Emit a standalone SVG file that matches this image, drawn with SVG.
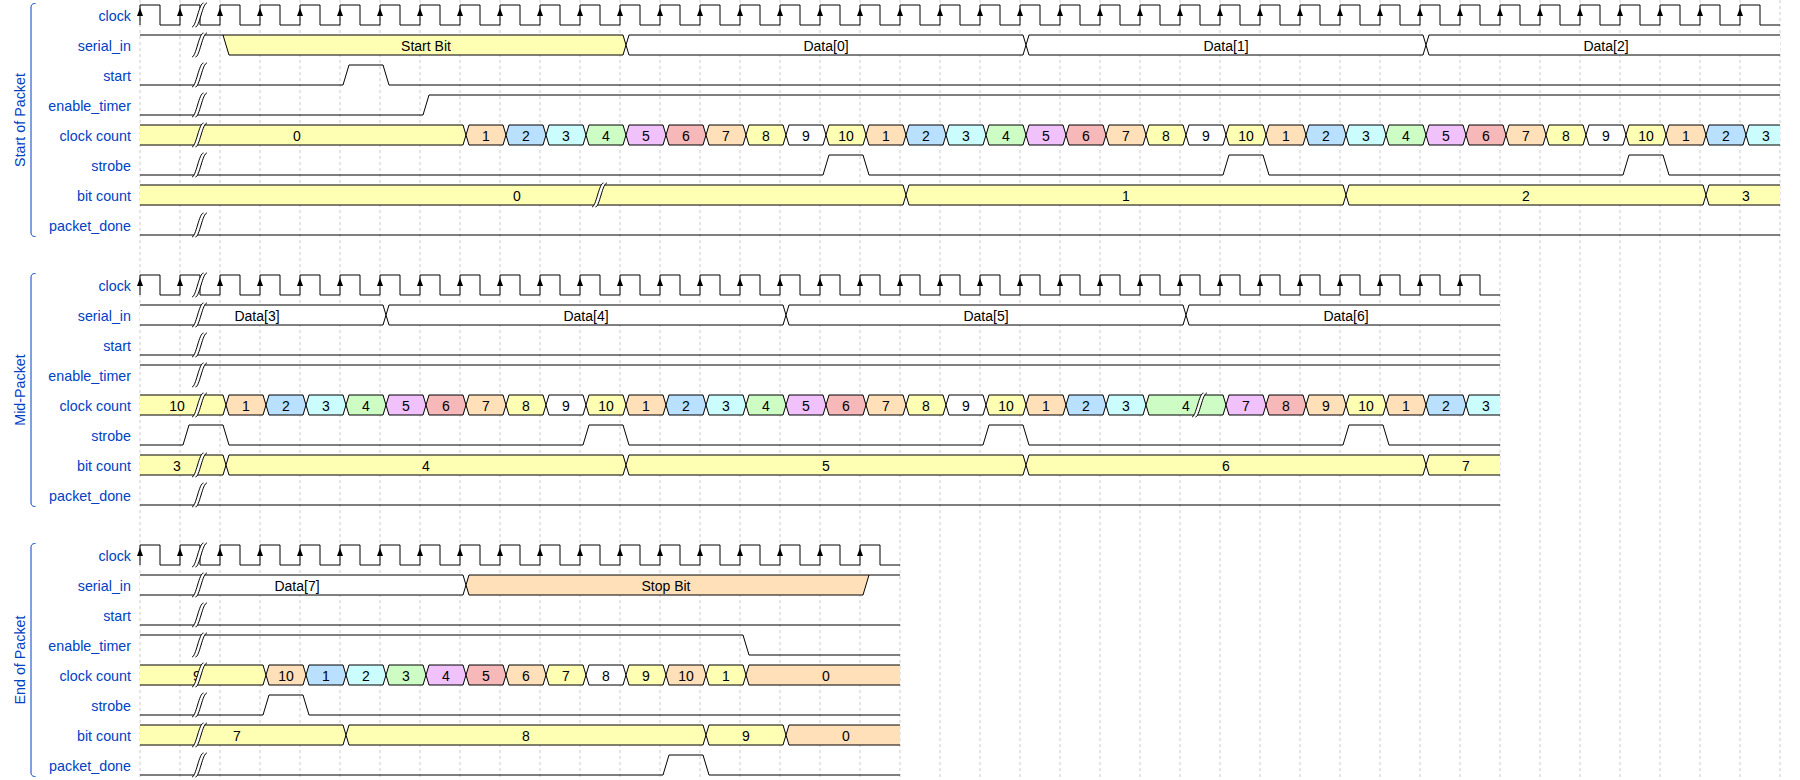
<svg xmlns="http://www.w3.org/2000/svg" width="1800" height="780" viewBox="0 0 1800 780">
<style>
.lbl{font-family:"Liberation Sans",Arial,Helvetica,sans-serif;font-size:14.3px;fill:#0041c4;text-anchor:end}
.grp{font-family:"Liberation Sans",Arial,Helvetica,sans-serif;font-size:14.3px;fill:#0041c4;text-anchor:middle}
.dt{font-family:"Liberation Sans",Arial,Helvetica,sans-serif;font-size:14px;fill:#000;text-anchor:middle}
.w{fill:none;stroke:#000;stroke-width:1}
.d{stroke:#000;stroke-width:1}
.ar{fill:#000;stroke:none}
.grid{fill:none;stroke:#cccccc;stroke-width:1;stroke-dasharray:3,3}
.br{fill:none;stroke:#0041c4;stroke-width:1}
.c2{fill:#ffffff}.c3{fill:#ffffb4}.c4{fill:#ffe0b9}.c5{fill:#b9e0ff}.c6{fill:#ccfdfe}.c7{fill:#cdfdc5}.c8{fill:#f0c1fb}.c9{fill:#f6b8b8}
</style>
<defs>
<path id="cell" d="M6,10 L9,0 L43,0 L46,10 L43,20 L9,20 Z" stroke="#000" stroke-width="1"/>
<g id="gap">
<path d="M-8,12 C-4,12 -1,-12 3.5,-12 L7,-12 C2.5,-12 -0.5,12 -4.5,12 Z" fill="#fff"/>
<path d="M-8,12 C-4,12 -1,-12 3.5,-12 M-4.5,12 C-0.5,12 2.5,-12 7,-12" fill="none" stroke="#000" stroke-width="1"/>
</g>
</defs>

<path class="grid" d="M140,0v780
m40,-780v780 m40,-780v780 m40,-780v780 m40,-780v780 m40,-780v780 m40,-780v780 m40,-780v780 m40,-780v780 m40,-780v780 m40,-780v780
m40,-780v780 m40,-780v780 m40,-780v780 m40,-780v780 m40,-780v780 m40,-780v780 m40,-780v780 m40,-780v780 m40,-780v780 m40,-780v780
m40,-780v780 m40,-780v780 m40,-780v780 m40,-780v780 m40,-780v780 m40,-780v780 m40,-780v780 m40,-780v780 m40,-780v780 m40,-780v780
m40,-780v780 m40,-780v780 m40,-780v780 m40,-780v780 m40,-780v780 m40,-780v780 m40,-780v780 m40,-780v780 m40,-780v780 m40,-780v780
m40,-780v780"/>

<!-- ================= Start of Packet ================= -->
<g id="group-start-of-packet">
<path class="br" d="M35.5,3.5 C32,3.5 31,5 31,8 L31,232 C31,235 32,236.5 35.5,236.5"/>
<text class="grp" transform="translate(25,120) rotate(-90)">Start of Packet</text>
</g>

<g id="p1-clock">
<text class="lbl" x="131" y="21">clock</text>
<path class="w" d="M140,25
v-20h20v20h20 v-20h20v20h20 v-20h20v20h20 v-20h20v20h20 v-20h20v20h20 v-20h20v20h20 v-20h20v20h20 v-20h20v20h20 v-20h20v20h20 v-20h20v20h20
v-20h20v20h20 v-20h20v20h20 v-20h20v20h20 v-20h20v20h20 v-20h20v20h20 v-20h20v20h20 v-20h20v20h20 v-20h20v20h20 v-20h20v20h20 v-20h20v20h20
v-20h20v20h20 v-20h20v20h20 v-20h20v20h20 v-20h20v20h20 v-20h20v20h20 v-20h20v20h20 v-20h20v20h20 v-20h20v20h20 v-20h20v20h20 v-20h20v20h20
v-20h20v20h20 v-20h20v20h20 v-20h20v20h20 v-20h20v20h20 v-20h20v20h20 v-20h20v20h20 v-20h20v20h20 v-20h20v20h20 v-20h20v20h20 v-20h20v20h20
v-20h20v20h20"/>
<path class="ar" d="M140,8l-3,8h6z
m40,0l-3,8h6z m40,0l-3,8h6z m40,0l-3,8h6z m40,0l-3,8h6z m40,0l-3,8h6z m40,0l-3,8h6z m40,0l-3,8h6z m40,0l-3,8h6z m40,0l-3,8h6z m40,0l-3,8h6z
m40,0l-3,8h6z m40,0l-3,8h6z m40,0l-3,8h6z m40,0l-3,8h6z m40,0l-3,8h6z m40,0l-3,8h6z m40,0l-3,8h6z m40,0l-3,8h6z m40,0l-3,8h6z m40,0l-3,8h6z
m40,0l-3,8h6z m40,0l-3,8h6z m40,0l-3,8h6z m40,0l-3,8h6z m40,0l-3,8h6z m40,0l-3,8h6z m40,0l-3,8h6z m40,0l-3,8h6z m40,0l-3,8h6z m40,0l-3,8h6z
m40,0l-3,8h6z m40,0l-3,8h6z m40,0l-3,8h6z m40,0l-3,8h6z m40,0l-3,8h6z m40,0l-3,8h6z m40,0l-3,8h6z m40,0l-3,8h6z m40,0l-3,8h6z m40,0l-3,8h6z"/>
<use href="#gap" x="200" y="15"/>
</g>

<g id="p1-serial_in">
<text class="lbl" x="131" y="51">serial_in</text>
<path class="d c3" d="M140,35 L623,35 L626,45 L623,55 L229,55 L223,35"/>
<path class="d c2" d="M626,45 L629,35 L1023,35 L1026,45 L1023,55 L629,55 Z"/>
<path class="d c2" d="M1026,45 L1029,35 L1423,35 L1426,45 L1423,55 L1029,55 Z"/>
<path class="d c2" d="M1780,35 L1429,35 L1426,45 L1429,55 L1780,55"/>
<text class="dt" x="426" y="50.5">Start Bit</text>
<text class="dt" x="826" y="50.5">Data[0]</text>
<text class="dt" x="1226" y="50.5">Data[1]</text>
<text class="dt" x="1606" y="50.5">Data[2]</text>
<use href="#gap" x="200" y="45"/>
</g>

<g id="p1-start">
<text class="lbl" x="131" y="81">start</text>
<path class="w" d="M140,85 L343,85 L349,65 L383,65 L389,85 L1780,85"/>
<use href="#gap" x="200" y="75"/>
</g>

<g id="p1-enable_timer">
<text class="lbl" x="131" y="111">enable_timer</text>
<path class="w" d="M140,115 L423,115 L429,95 L1780,95"/>
<use href="#gap" x="200" y="105"/>
</g>

<g id="p1-clock_count">
<text class="lbl" x="131" y="141">clock count</text>
<path class="d c3" d="M140,125 L463,125 L466,135 L463,145 L140,145"/>
<use href="#cell" x="460" y="125" class="c4"/>
<use href="#cell" x="500" y="125" class="c5"/>
<use href="#cell" x="540" y="125" class="c6"/>
<use href="#cell" x="580" y="125" class="c7"/>
<use href="#cell" x="620" y="125" class="c8"/>
<use href="#cell" x="660" y="125" class="c9"/>
<use href="#cell" x="700" y="125" class="c4"/>
<use href="#cell" x="740" y="125" class="c3"/>
<use href="#cell" x="780" y="125" class="c2"/>
<use href="#cell" x="820" y="125" class="c3"/>
<use href="#cell" x="860" y="125" class="c4"/>
<use href="#cell" x="900" y="125" class="c5"/>
<use href="#cell" x="940" y="125" class="c6"/>
<use href="#cell" x="980" y="125" class="c7"/>
<use href="#cell" x="1020" y="125" class="c8"/>
<use href="#cell" x="1060" y="125" class="c9"/>
<use href="#cell" x="1100" y="125" class="c4"/>
<use href="#cell" x="1140" y="125" class="c3"/>
<use href="#cell" x="1180" y="125" class="c2"/>
<use href="#cell" x="1220" y="125" class="c3"/>
<use href="#cell" x="1260" y="125" class="c4"/>
<use href="#cell" x="1300" y="125" class="c5"/>
<use href="#cell" x="1340" y="125" class="c6"/>
<use href="#cell" x="1380" y="125" class="c7"/>
<use href="#cell" x="1420" y="125" class="c8"/>
<use href="#cell" x="1460" y="125" class="c9"/>
<use href="#cell" x="1500" y="125" class="c4"/>
<use href="#cell" x="1540" y="125" class="c3"/>
<use href="#cell" x="1580" y="125" class="c2"/>
<use href="#cell" x="1620" y="125" class="c3"/>
<use href="#cell" x="1660" y="125" class="c4"/>
<use href="#cell" x="1700" y="125" class="c5"/>
<path class="d c6" d="M1780,125 L1749,125 L1746,135 L1749,145 L1780,145"/>
<text class="dt" x="297" y="140.5">0</text>
<text class="dt" x="486" y="140.5">1</text>
<text class="dt" x="526" y="140.5">2</text>
<text class="dt" x="566" y="140.5">3</text>
<text class="dt" x="606" y="140.5">4</text>
<text class="dt" x="646" y="140.5">5</text>
<text class="dt" x="686" y="140.5">6</text>
<text class="dt" x="726" y="140.5">7</text>
<text class="dt" x="766" y="140.5">8</text>
<text class="dt" x="806" y="140.5">9</text>
<text class="dt" x="846" y="140.5">10</text>
<text class="dt" x="886" y="140.5">1</text>
<text class="dt" x="926" y="140.5">2</text>
<text class="dt" x="966" y="140.5">3</text>
<text class="dt" x="1006" y="140.5">4</text>
<text class="dt" x="1046" y="140.5">5</text>
<text class="dt" x="1086" y="140.5">6</text>
<text class="dt" x="1126" y="140.5">7</text>
<text class="dt" x="1166" y="140.5">8</text>
<text class="dt" x="1206" y="140.5">9</text>
<text class="dt" x="1246" y="140.5">10</text>
<text class="dt" x="1286" y="140.5">1</text>
<text class="dt" x="1326" y="140.5">2</text>
<text class="dt" x="1366" y="140.5">3</text>
<text class="dt" x="1406" y="140.5">4</text>
<text class="dt" x="1446" y="140.5">5</text>
<text class="dt" x="1486" y="140.5">6</text>
<text class="dt" x="1526" y="140.5">7</text>
<text class="dt" x="1566" y="140.5">8</text>
<text class="dt" x="1606" y="140.5">9</text>
<text class="dt" x="1646" y="140.5">10</text>
<text class="dt" x="1686" y="140.5">1</text>
<text class="dt" x="1726" y="140.5">2</text>
<text class="dt" x="1766" y="140.5">3</text>
<use href="#gap" x="200" y="135"/>
</g>

<g id="p1-strobe">
<text class="lbl" x="131" y="171">strobe</text>
<path class="w" d="M140,175 L823,175 L829,155 L863,155 L869,175 L1223,175 L1229,155 L1263,155 L1269,175 L1623,175 L1629,155 L1663,155 L1669,175 L1780,175"/>
<use href="#gap" x="200" y="165"/>
</g>

<g id="p1-bit_count">
<text class="lbl" x="131" y="201">bit count</text>
<path class="d c3" d="M140,185 L903,185 L906,195 L903,205 L140,205"/>
<path class="d c3" d="M906,195 L909,185 L1343,185 L1346,195 L1343,205 L909,205 Z"/>
<path class="d c3" d="M1346,195 L1349,185 L1703,185 L1706,195 L1703,205 L1349,205 Z"/>
<path class="d c3" d="M1780,185 L1709,185 L1706,195 L1709,205 L1780,205"/>
<text class="dt" x="517" y="200.5">0</text>
<text class="dt" x="1126" y="200.5">1</text>
<text class="dt" x="1526" y="200.5">2</text>
<text class="dt" x="1746" y="200.5">3</text>
<use href="#gap" x="600" y="195"/>
</g>

<g id="p1-packet_done">
<text class="lbl" x="131" y="231">packet_done</text>
<path class="w" d="M140,235 L1780,235"/>
<use href="#gap" x="200" y="225"/>
</g>

<!-- ================= Mid-Packet ================= -->
<g id="group-mid-packet">
<path class="br" d="M35.5,273.5 C32,273.5 31,275 31,278 L31,502 C31,505 32,506.5 35.5,506.5"/>
<text class="grp" transform="translate(25,390) rotate(-90)">Mid-Packet</text>
</g>

<g id="p2-clock">
<text class="lbl" x="131" y="291">clock</text>
<path class="w" d="M140,295
v-20h20v20h20 v-20h20v20h20 v-20h20v20h20 v-20h20v20h20 v-20h20v20h20 v-20h20v20h20 v-20h20v20h20 v-20h20v20h20 v-20h20v20h20 v-20h20v20h20
v-20h20v20h20 v-20h20v20h20 v-20h20v20h20 v-20h20v20h20 v-20h20v20h20 v-20h20v20h20 v-20h20v20h20 v-20h20v20h20 v-20h20v20h20 v-20h20v20h20
v-20h20v20h20 v-20h20v20h20 v-20h20v20h20 v-20h20v20h20 v-20h20v20h20 v-20h20v20h20 v-20h20v20h20 v-20h20v20h20 v-20h20v20h20 v-20h20v20h20
v-20h20v20h20 v-20h20v20h20 v-20h20v20h20 v-20h20v20h20"/>
<path class="ar" d="M140,278l-3,8h6z
m40,0l-3,8h6z m40,0l-3,8h6z m40,0l-3,8h6z m40,0l-3,8h6z m40,0l-3,8h6z m40,0l-3,8h6z m40,0l-3,8h6z m40,0l-3,8h6z m40,0l-3,8h6z m40,0l-3,8h6z
m40,0l-3,8h6z m40,0l-3,8h6z m40,0l-3,8h6z m40,0l-3,8h6z m40,0l-3,8h6z m40,0l-3,8h6z m40,0l-3,8h6z m40,0l-3,8h6z m40,0l-3,8h6z m40,0l-3,8h6z
m40,0l-3,8h6z m40,0l-3,8h6z m40,0l-3,8h6z m40,0l-3,8h6z m40,0l-3,8h6z m40,0l-3,8h6z m40,0l-3,8h6z m40,0l-3,8h6z m40,0l-3,8h6z m40,0l-3,8h6z
m40,0l-3,8h6z m40,0l-3,8h6z m40,0l-3,8h6z"/>
<use href="#gap" x="200" y="285"/>
</g>

<g id="p2-serial_in">
<text class="lbl" x="131" y="321">serial_in</text>
<path class="d c2" d="M140,305 L383,305 L386,315 L383,325 L140,325"/>
<path class="d c2" d="M386,315 L389,305 L783,305 L786,315 L783,325 L389,325 Z"/>
<path class="d c2" d="M786,315 L789,305 L1183,305 L1186,315 L1183,325 L789,325 Z"/>
<path class="d c2" d="M1500,305 L1189,305 L1186,315 L1189,325 L1500,325"/>
<text class="dt" x="257" y="320.5">Data[3]</text>
<text class="dt" x="586" y="320.5">Data[4]</text>
<text class="dt" x="986" y="320.5">Data[5]</text>
<text class="dt" x="1346" y="320.5">Data[6]</text>
<use href="#gap" x="200" y="315"/>
</g>

<g id="p2-start">
<text class="lbl" x="131" y="351">start</text>
<path class="w" d="M140,355 L1500,355"/>
<use href="#gap" x="200" y="345"/>
</g>

<g id="p2-enable_timer">
<text class="lbl" x="131" y="381">enable_timer</text>
<path class="w" d="M140,365 L1500,365"/>
<use href="#gap" x="200" y="375"/>
</g>

<g id="p2-clock_count">
<text class="lbl" x="131" y="411">clock count</text>
<path class="d c3" d="M140,395 L223,395 L226,405 L223,415 L140,415"/>
<use href="#cell" x="220" y="395" class="c4"/>
<use href="#cell" x="260" y="395" class="c5"/>
<use href="#cell" x="300" y="395" class="c6"/>
<use href="#cell" x="340" y="395" class="c7"/>
<use href="#cell" x="380" y="395" class="c8"/>
<use href="#cell" x="420" y="395" class="c9"/>
<use href="#cell" x="460" y="395" class="c4"/>
<use href="#cell" x="500" y="395" class="c3"/>
<use href="#cell" x="540" y="395" class="c2"/>
<use href="#cell" x="580" y="395" class="c3"/>
<use href="#cell" x="620" y="395" class="c4"/>
<use href="#cell" x="660" y="395" class="c5"/>
<use href="#cell" x="700" y="395" class="c6"/>
<use href="#cell" x="740" y="395" class="c7"/>
<use href="#cell" x="780" y="395" class="c8"/>
<use href="#cell" x="820" y="395" class="c9"/>
<use href="#cell" x="860" y="395" class="c4"/>
<use href="#cell" x="900" y="395" class="c3"/>
<use href="#cell" x="940" y="395" class="c2"/>
<use href="#cell" x="980" y="395" class="c3"/>
<use href="#cell" x="1020" y="395" class="c4"/>
<use href="#cell" x="1060" y="395" class="c5"/>
<use href="#cell" x="1100" y="395" class="c6"/>
<path class="d c7" d="M1146,405 L1149,395 L1223,395 L1226,405 L1223,415 L1149,415 Z"/>
<use href="#cell" x="1220" y="395" class="c8"/>
<use href="#cell" x="1260" y="395" class="c9"/>
<use href="#cell" x="1300" y="395" class="c4"/>
<use href="#cell" x="1340" y="395" class="c3"/>
<use href="#cell" x="1380" y="395" class="c4"/>
<use href="#cell" x="1420" y="395" class="c5"/>
<path class="d c6" d="M1500,395 L1469,395 L1466,405 L1469,415 L1500,415"/>
<text class="dt" x="177" y="410.5">10</text>
<text class="dt" x="246" y="410.5">1</text>
<text class="dt" x="286" y="410.5">2</text>
<text class="dt" x="326" y="410.5">3</text>
<text class="dt" x="366" y="410.5">4</text>
<text class="dt" x="406" y="410.5">5</text>
<text class="dt" x="446" y="410.5">6</text>
<text class="dt" x="486" y="410.5">7</text>
<text class="dt" x="526" y="410.5">8</text>
<text class="dt" x="566" y="410.5">9</text>
<text class="dt" x="606" y="410.5">10</text>
<text class="dt" x="646" y="410.5">1</text>
<text class="dt" x="686" y="410.5">2</text>
<text class="dt" x="726" y="410.5">3</text>
<text class="dt" x="766" y="410.5">4</text>
<text class="dt" x="806" y="410.5">5</text>
<text class="dt" x="846" y="410.5">6</text>
<text class="dt" x="886" y="410.5">7</text>
<text class="dt" x="926" y="410.5">8</text>
<text class="dt" x="966" y="410.5">9</text>
<text class="dt" x="1006" y="410.5">10</text>
<text class="dt" x="1046" y="410.5">1</text>
<text class="dt" x="1086" y="410.5">2</text>
<text class="dt" x="1126" y="410.5">3</text>
<text class="dt" x="1186" y="410.5">4</text>
<text class="dt" x="1246" y="410.5">7</text>
<text class="dt" x="1286" y="410.5">8</text>
<text class="dt" x="1326" y="410.5">9</text>
<text class="dt" x="1366" y="410.5">10</text>
<text class="dt" x="1406" y="410.5">1</text>
<text class="dt" x="1446" y="410.5">2</text>
<text class="dt" x="1486" y="410.5">3</text>
<use href="#gap" x="200" y="405"/>
<use href="#gap" x="1200" y="405"/>
</g>

<g id="p2-strobe">
<text class="lbl" x="131" y="441">strobe</text>
<path class="w" d="M140,445 L183,445 L189,425 L223,425 L229,445 L583,445 L589,425 L623,425 L629,445 L983,445 L989,425 L1023,425 L1029,445 L1343,445 L1349,425 L1383,425 L1389,445 L1500,445"/>
</g>

<g id="p2-bit_count">
<text class="lbl" x="131" y="471">bit count</text>
<path class="d c3" d="M140,455 L223,455 L226,465 L223,475 L140,475"/>
<path class="d c3" d="M226,465 L229,455 L623,455 L626,465 L623,475 L229,475 Z"/>
<path class="d c3" d="M626,465 L629,455 L1023,455 L1026,465 L1023,475 L629,475 Z"/>
<path class="d c3" d="M1026,465 L1029,455 L1423,455 L1426,465 L1423,475 L1029,475 Z"/>
<path class="d c3" d="M1500,455 L1429,455 L1426,465 L1429,475 L1500,475"/>
<text class="dt" x="177" y="470.5">3</text>
<text class="dt" x="426" y="470.5">4</text>
<text class="dt" x="826" y="470.5">5</text>
<text class="dt" x="1226" y="470.5">6</text>
<text class="dt" x="1466" y="470.5">7</text>
<use href="#gap" x="200" y="465"/>
</g>

<g id="p2-packet_done">
<text class="lbl" x="131" y="501">packet_done</text>
<path class="w" d="M140,505 L1500,505"/>
<use href="#gap" x="200" y="495"/>
</g>

<!-- ================= End of Packet ================= -->
<g id="group-end-of-packet">
<path class="br" d="M35.5,543.5 C32,543.5 31,545 31,548 L31,772 C31,775 32,776.5 35.5,776.5"/>
<text class="grp" transform="translate(25,660) rotate(-90)">End of Packet</text>
</g>

<g id="p3-clock">
<text class="lbl" x="131" y="561">clock</text>
<path class="w" d="M140,565
v-20h20v20h20 v-20h20v20h20 v-20h20v20h20 v-20h20v20h20 v-20h20v20h20 v-20h20v20h20 v-20h20v20h20 v-20h20v20h20 v-20h20v20h20 v-20h20v20h20
v-20h20v20h20 v-20h20v20h20 v-20h20v20h20 v-20h20v20h20 v-20h20v20h20 v-20h20v20h20 v-20h20v20h20 v-20h20v20h20 v-20h20v20h20"/>
<path class="ar" d="M140,548l-3,8h6z
m40,0l-3,8h6z m40,0l-3,8h6z m40,0l-3,8h6z m40,0l-3,8h6z m40,0l-3,8h6z m40,0l-3,8h6z m40,0l-3,8h6z m40,0l-3,8h6z m40,0l-3,8h6z m40,0l-3,8h6z
m40,0l-3,8h6z m40,0l-3,8h6z m40,0l-3,8h6z m40,0l-3,8h6z m40,0l-3,8h6z m40,0l-3,8h6z m40,0l-3,8h6z m40,0l-3,8h6z"/>
<use href="#gap" x="200" y="555"/>
</g>

<g id="p3-serial_in">
<text class="lbl" x="131" y="591">serial_in</text>
<path class="d c2" d="M140,575 L463,575 L466,585 L463,595 L140,595"/>
<path class="d c4" d="M900,575 L469,575 L466,585 L469,595 L863,595 L869,575"/>
<text class="dt" x="297" y="590.5">Data[7]</text>
<text class="dt" x="666" y="590.5">Stop Bit</text>
<use href="#gap" x="200" y="585"/>
</g>

<g id="p3-start">
<text class="lbl" x="131" y="621">start</text>
<path class="w" d="M140,625 L900,625"/>
<use href="#gap" x="200" y="615"/>
</g>

<g id="p3-enable_timer">
<text class="lbl" x="131" y="651">enable_timer</text>
<path class="w" d="M140,635 L743,635 L749,655 L900,655"/>
<use href="#gap" x="200" y="645"/>
</g>

<g id="p3-clock_count">
<text class="lbl" x="131" y="681">clock count</text>
<path class="d c3" d="M140,665 L263,665 L266,675 L263,685 L140,685"/>
<use href="#cell" x="260" y="665" class="c4"/>
<use href="#cell" x="300" y="665" class="c5"/>
<use href="#cell" x="340" y="665" class="c6"/>
<use href="#cell" x="380" y="665" class="c7"/>
<use href="#cell" x="420" y="665" class="c8"/>
<use href="#cell" x="460" y="665" class="c9"/>
<use href="#cell" x="500" y="665" class="c4"/>
<use href="#cell" x="540" y="665" class="c3"/>
<use href="#cell" x="580" y="665" class="c2"/>
<use href="#cell" x="620" y="665" class="c3"/>
<use href="#cell" x="660" y="665" class="c4"/>
<use href="#cell" x="700" y="665" class="c3"/>
<path class="d c4" d="M900,665 L749,665 L746,675 L749,685 L900,685"/>
<text class="dt" x="197" y="680.5">9</text>
<text class="dt" x="286" y="680.5">10</text>
<text class="dt" x="326" y="680.5">1</text>
<text class="dt" x="366" y="680.5">2</text>
<text class="dt" x="406" y="680.5">3</text>
<text class="dt" x="446" y="680.5">4</text>
<text class="dt" x="486" y="680.5">5</text>
<text class="dt" x="526" y="680.5">6</text>
<text class="dt" x="566" y="680.5">7</text>
<text class="dt" x="606" y="680.5">8</text>
<text class="dt" x="646" y="680.5">9</text>
<text class="dt" x="686" y="680.5">10</text>
<text class="dt" x="726" y="680.5">1</text>
<text class="dt" x="826" y="680.5">0</text>
<use href="#gap" x="200" y="675"/>
</g>

<g id="p3-strobe">
<text class="lbl" x="131" y="711">strobe</text>
<path class="w" d="M140,715 L263,715 L269,695 L303,695 L309,715 L900,715"/>
<use href="#gap" x="200" y="705"/>
</g>

<g id="p3-bit_count">
<text class="lbl" x="131" y="741">bit count</text>
<path class="d c3" d="M140,725 L343,725 L346,735 L343,745 L140,745"/>
<path class="d c3" d="M346,735 L349,725 L703,725 L706,735 L703,745 L349,745 Z"/>
<path class="d c3" d="M706,735 L709,725 L783,725 L786,735 L783,745 L709,745 Z"/>
<path class="d c4" d="M900,725 L789,725 L786,735 L789,745 L900,745"/>
<text class="dt" x="237" y="740.5">7</text>
<text class="dt" x="526" y="740.5">8</text>
<text class="dt" x="746" y="740.5">9</text>
<text class="dt" x="846" y="740.5">0</text>
<use href="#gap" x="200" y="735"/>
</g>

<g id="p3-packet_done">
<text class="lbl" x="131" y="771">packet_done</text>
<path class="w" d="M140,775 L663,775 L669,755 L703,755 L709,775 L900,775"/>
<use href="#gap" x="200" y="765"/>
</g>

<g id="connectors"></g>
</svg>
